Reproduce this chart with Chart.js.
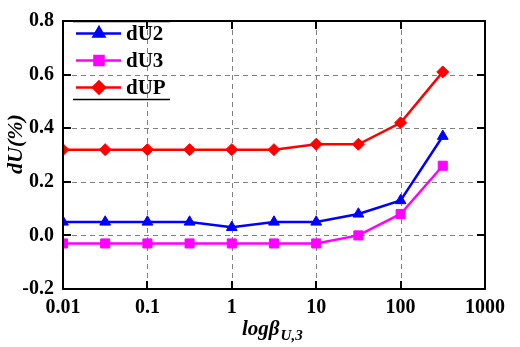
<!DOCTYPE html>
<html>
<head>
<meta charset="utf-8">
<script src="https://cdn.jsdelivr.net/npm/chart.js@4.4.1/dist/chart.umd.min.js"></script>
<style>
  html, body { margin: 0; padding: 0; background: #fff; }
  #wrap { width: 520px; height: 347px; }
</style>
</head>
<body>
<div id="wrap"><canvas id="c" width="520" height="347"></canvas></div>
<script>
// ---- data ----
const xValues = [0.01, 0.0316, 0.1, 0.316, 1, 3.16, 10, 31.6, 100, 316];
const dU2 = [0.05, 0.05, 0.05, 0.05, 0.03, 0.05, 0.05, 0.08, 0.13, 0.37];
const dU3 = [-0.03, -0.03, -0.03, -0.03, -0.03, -0.03, -0.03, 0.00, 0.08, 0.26];
const dUP = [0.32, 0.32, 0.32, 0.32, 0.32, 0.32, 0.34, 0.34, 0.42, 0.61];
const seriesNames = ['dU2', 'dU3', 'dUP'];
const xTickValues = [0.01, 0.1, 1, 10, 100, 1000];
const xTickLabels = ['0.01', '0.1', '1', '10', '100', '1000'];
const yTickValues = [-0.2, 0.0, 0.2, 0.4, 0.6, 0.8];
const yTickLabels = ['-0.2', '0.0', '0.2', '0.4', '0.6', '0.8'];
const xTitleMain = 'logβ';
const xTitleSub = 'U,3';
const yTitle = 'dU(%)';

const SERIF = '"Liberation Serif", "Times New Roman", serif';
const styles = [
  { color: '#0000ff', pointStyle: 'triangle', radius: 6.2 },
  { color: '#ff00ff', pointStyle: 'rect', radius: 6.4 },
  { color: '#ff0000', pointStyle: 'rectRot', radius: 6 }
];
const seriesData = [dU2, dU3, dUP];

const datasets = seriesData.map((arr, i) => ({
  label: seriesNames[i],
  data: arr.map((v, j) => ({ x: xValues[j], y: v })),
  borderColor: styles[i].color,
  backgroundColor: styles[i].color,
  borderWidth: 2.5,
  pointStyle: styles[i].pointStyle,
  pointRadius: styles[i].radius,
  pointBorderWidth: 1,
  pointBackgroundColor: styles[i].color,
  pointBorderColor: styles[i].color,
  tension: 0,
  fill: false
}));

const framePlugin = {
  id: 'frame',
  beforeDatasetsDraw(chart) {
    const { ctx, chartArea: a, scales: { x, y } } = chart;
    ctx.save();
    ctx.strokeStyle = '#808080';
    ctx.lineWidth = 1;
    ctx.setLineDash([5, 4]);
    xTickValues.forEach(v => {
      if (v <= x.min || v >= x.max) return;
      const px = Math.round(x.getPixelForValue(v)) + 0.5;
      ctx.beginPath(); ctx.moveTo(px, a.top); ctx.lineTo(px, a.bottom); ctx.stroke();
    });
    yTickValues.forEach(v => {
      if (v <= y.min || v >= y.max) return;
      const py = Math.round(y.getPixelForValue(v)) + 0.5;
      ctx.beginPath(); ctx.moveTo(a.left, py); ctx.lineTo(a.right, py); ctx.stroke();
    });
    ctx.restore();
  },
  afterDraw(chart) {
    const { ctx, chartArea: a, scales: { x, y } } = chart;
    ctx.save();
    ctx.strokeStyle = '#000';
    ctx.setLineDash([]);
    // inward ticks
    ctx.lineWidth = 2;
    const TL = 8;
    xTickValues.forEach(v => {
      if (v <= x.min || v >= x.max) return;
      const px = Math.round(x.getPixelForValue(v));
      ctx.beginPath(); ctx.moveTo(px, a.bottom); ctx.lineTo(px, a.bottom - TL); ctx.stroke();
      ctx.beginPath(); ctx.moveTo(px, a.top); ctx.lineTo(px, a.top + TL); ctx.stroke();
    });
    yTickValues.forEach(v => {
      if (v <= y.min || v >= y.max) return;
      const py = Math.round(y.getPixelForValue(v));
      ctx.beginPath(); ctx.moveTo(a.left, py); ctx.lineTo(a.left + TL, py); ctx.stroke();
      ctx.beginPath(); ctx.moveTo(a.right, py); ctx.lineTo(a.right - TL, py); ctx.stroke();
    });
    // border
    ctx.lineWidth = 2;
    ctx.strokeRect(a.left, a.top, a.right - a.left, a.bottom - a.top);

    // legend
    const lx0 = 73, lx1 = 170;
    ctx.lineWidth = 1.5;
    ctx.beginPath(); ctx.moveTo(lx0, 21.5); ctx.lineTo(lx1, 21.5); ctx.stroke();
    ctx.beginPath(); ctx.moveTo(lx0, 99.5); ctx.lineTo(lx1, 99.5); ctx.stroke();
    const rows = [33.5, 60.5, 87.5];
    chart.data.datasets.forEach((ds, i) => {
      const yy = rows[i];
      ctx.strokeStyle = ds.borderColor;
      ctx.lineWidth = 2.5;
      ctx.beginPath(); ctx.moveTo(76, yy); ctx.lineTo(121, yy); ctx.stroke();
      Chart.helpers.drawPoint(ctx, {
        pointStyle: ds.pointStyle, radius: ds.pointRadius, rotation: 0, borderWidth: 1
      }, 99, yy);
      ctx.fillStyle = ds.pointBackgroundColor;
      ctx.strokeStyle = ds.pointBorderColor;
      ctx.lineWidth = 1;
      ctx.beginPath();
      Chart.helpers.drawPoint(ctx, {
        pointStyle: ds.pointStyle, radius: ds.pointRadius, rotation: 0, borderWidth: 1
      }, 99, yy);
      ctx.fillStyle = '#000';
      ctx.font = 'bold 21px ' + SERIF;
      ctx.textAlign = 'left';
      ctx.textBaseline = 'middle';
      ctx.fillText(ds.label, 126, yy + 1);
    });

    // y title
    ctx.save();
    ctx.translate(16, 144);
    ctx.rotate(-Math.PI / 2);
    ctx.fillStyle = '#000';
    ctx.font = 'italic bold 22px ' + SERIF;
    ctx.textAlign = 'center';
    ctx.textBaseline = 'middle';
    ctx.fillText(yTitle, 0, 0);
    ctx.restore();

    // x title with subscript
    ctx.fillStyle = '#000';
    ctx.textAlign = 'left';
    ctx.textBaseline = 'alphabetic';
    ctx.font = 'italic bold 21px ' + SERIF;
    ctx.fillText(xTitleMain, 242, 335);
    const w = ctx.measureText(xTitleMain).width;
    ctx.font = 'italic bold 15px ' + SERIF;
    ctx.fillText(xTitleSub, 242 + w + 1, 340);
    ctx.restore();
  }
};

new Chart(document.getElementById('c'), {
  type: 'line',
  data: { datasets },
  options: {
    responsive: false,
    animation: false,
    devicePixelRatio: 1,
    layout: { padding: { top: 13, right: 35, left: 0, bottom: 0 } },
    plugins: { legend: { display: false }, tooltip: { enabled: false } },
    scales: {
      x: {
        type: 'logarithmic',
        min: 0.01, max: 1000,
        afterBuildTicks: s => { s.ticks = xTickValues.map(v => ({ value: v })); },
        afterFit: s => { s.height = 58; },
        grid: { display: false, drawTicks: false },
        border: { display: false },
        ticks: {
          autoSkip: false, maxRotation: 0, minRotation: 0, padding: 7,
          color: '#000',
          font: { family: SERIF, size: 20, weight: 'bold' },
          callback: (v) => { const i = xTickValues.indexOf(v); return i >= 0 ? xTickLabels[i] : ''; }
        }
      },
      y: {
        type: 'linear',
        min: -0.2, max: 0.8,
        afterBuildTicks: s => { s.ticks = yTickValues.map(v => ({ value: v })); },
        afterFit: s => { s.width = 63; },
        grid: { display: false, drawTicks: false },
        border: { display: false },
        ticks: {
          padding: 9,
          color: '#000',
          font: { family: SERIF, size: 20, weight: 'bold' },
          callback: (v) => { const i = yTickValues.findIndex(t => Math.abs(t - v) < 1e-9); return i >= 0 ? yTickLabels[i] : ''; }
        }
      }
    }
  },
  plugins: [framePlugin]
});
</script>
</body>
</html>
